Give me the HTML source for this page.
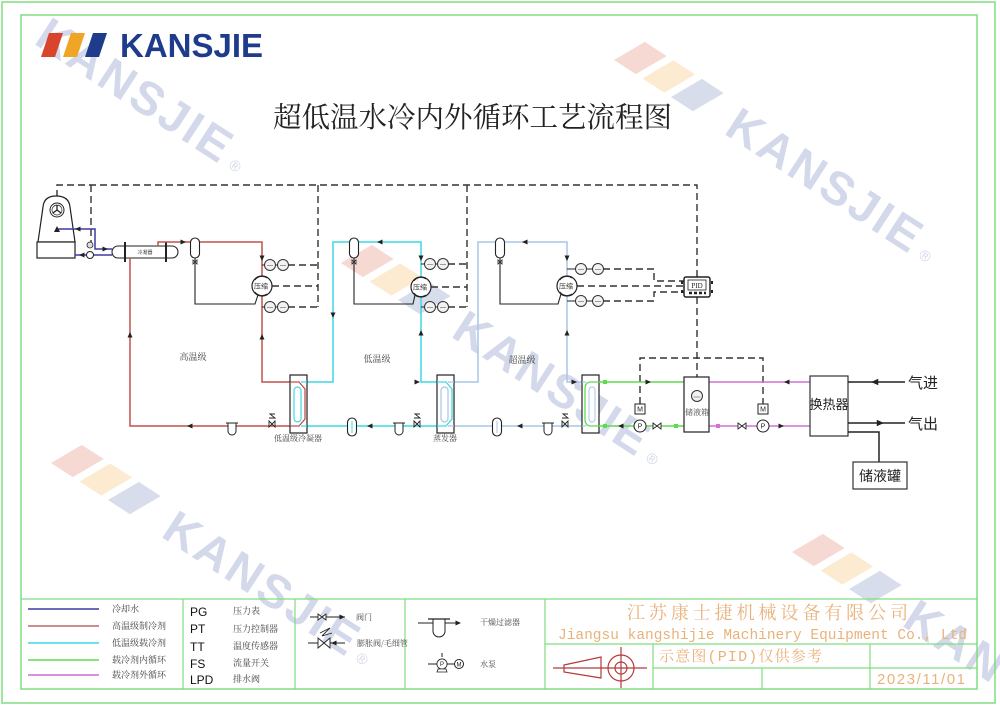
<!DOCTYPE html>
<html><head><meta charset="utf-8"><style>
html,body{margin:0;padding:0;background:#fff;width:1000px;height:706px;overflow:hidden;}
svg{display:block;}
</style></head><body>
<svg width="1000" height="706" viewBox="0 0 1000 706" xmlns="http://www.w3.org/2000/svg" font-family="'Liberation Sans','Noto Sans CJK SC',sans-serif">
<defs>
 <path id="ar" d="M-2.5,-2.5 L3,0 L-2.5,2.5Z"/>
 <g id="stripes">
  <polygon points="0,0 26,0 42,-32 16,-32" fill="#f6d9d2"/>
  <polygon points="34,0 60,0 76,-32 50,-32" fill="#fcebd0"/>
  <polygon points="68,0 94,0 110,-32 84,-32" fill="#d8ddec"/>
 </g>
 <g id="wmtext">
  <text x="131" y="2" font-size="47" font-weight="bold" letter-spacing="3" fill="#d3d9ea">KANSJIE</text>
  <text x="362" y="0" font-size="15" fill="#d3d9ea">®</text>
 </g>
 <g id="wm"><use href="#stripes"/><use href="#wmtext"/></g>
 <g id="gauge"><circle r="5.5" fill="#f2f2f2" stroke="#333" stroke-width="1"/><line x1="-3" y1="0.5" x2="3" y2="0.5" stroke="#888" stroke-width="0.8"/></g>
 <g id="comp"><circle r="10" fill="#fff" stroke="#222" stroke-width="1.2"/><path d="M-7,-6 A9,9 0 0 1 5,-8 M-7,6 A9,9 0 0 0 5,8" fill="none" stroke="#222" stroke-width="0.8"/><text x="-1" y="2.5" font-size="7" text-anchor="middle" fill="#333" font-family="'Noto Sans CJK SC',sans-serif">压缩</text></g>
 <g id="recv"><rect x="-4.5" y="-10" width="9" height="20" rx="4.5" fill="#fff" stroke="#222" stroke-width="1.1"/><path d="M-2,12 L2,16 L2,12 L-2,16Z" fill="#fff" stroke="#222" stroke-width="0.8"/></g>
 <g id="bow"><path d="M-4,-3 L4,3 L4,-3 L-4,3Z" fill="#fff" stroke="#222" stroke-width="0.9"/></g>
 <g id="filt"><path d="M-4,-5 L-4,3 A4,4 0 0 0 4,3 L4,-5" fill="#fff" stroke="#222" stroke-width="1"/><line x1="-6" y1="-5" x2="6" y2="-5" stroke="#222" stroke-width="1"/></g>
 <g id="xv"><path d="M-3,-2 L3,4 L3,-2 L-3,4Z" fill="#fff" stroke="#222" stroke-width="0.9"/><path d="M-3,-5 L3,-5 L-2,-9 L3,-9" stroke="#222" stroke-width="0.9" fill="none"/></g>
 <g id="pump"><circle r="6" fill="#fff" stroke="#222" stroke-width="1"/><text x="0" y="2.5" font-size="7" text-anchor="middle" fill="#222">P</text></g>
 <g id="mot"><rect x="-5" y="-5" width="10" height="10" fill="#fff" stroke="#222" stroke-width="1"/><text x="0" y="2.5" font-size="7" text-anchor="middle" fill="#222">M</text></g>
 <g id="cap"><rect x="-4.5" y="-9" width="9" height="18" rx="4.5" fill="#fff" stroke="#222" stroke-width="1.1"/></g>
</defs>

<!-- watermarks -->
<use href="#wmtext" transform="translate(-76,-30) rotate(33)"/>
<use href="#wm" transform="translate(614,60) rotate(33)"/>
<use href="#wm" transform="translate(341,263) rotate(33)"/>
<use href="#wm" transform="translate(51,463) rotate(33)"/>
<g transform="translate(792,552) rotate(33)">
 <use href="#stripes"/>
 <text x="131" y="2" font-size="47" font-weight="bold" letter-spacing="3" fill="#d3d9ea">KAN</text>
</g>

<!-- borders -->
<rect x="2" y="2" width="993" height="701" fill="none" stroke="#80dd80" stroke-width="1.5"/>
<rect x="21" y="15" width="956" height="674" fill="none" stroke="#80dd80" stroke-width="1.5"/>

<!-- logo -->
<polygon points="41,57 55,57 63,33 49,33" fill="#d8442c"/>
<polygon points="63,57 77,57 85,33 71,33" fill="#f0a526"/>
<polygon points="85,57 99,57 107,33 93,33" fill="#1f3c8c"/>
<text x="120" y="57" font-size="33" font-weight="bold" fill="#1f3c8c">KANSJIE</text>

<!-- title -->
<text x="273" y="127" font-size="28.5" textLength="399" fill="#222" font-family="'Liberation Serif','Noto Serif CJK SC',serif">超低温水冷内外循环工艺流程图</text>

<!-- dashed control lines -->
<g fill="none" stroke="#333" stroke-width="1.4" stroke-dasharray="7,4">
 <path d="M57,197 V185 H697 V277"/>
 <path d="M91,185 V242"/>
 <path d="M318,185 V307 M288,265 H318 M272,286 H318 M288,307 H318"/>
 <path d="M467,185 V307 M448,264 H467 M431,287 H467 M448,307 H467"/>
 <path d="M603,269 H654 V281 H684 M577,286 H684 M603,301 H654 V292 H684"/>
 <path d="M697,297 V377"/>
 <path d="M640,404 V358 H763 V404"/>
</g>

<!-- cooling tower -->
<path d="M38,242 L43,207 Q44,196 56,196 Q69,196 70,207 L75,242 Z" fill="#fff" stroke="#222" stroke-width="1.2"/>
<rect x="37" y="242" width="38" height="16" fill="#fff" stroke="#222" stroke-width="1.2"/>
<circle cx="57" cy="210" r="7" fill="#fff" stroke="#222" stroke-width="1"/>
<circle cx="57" cy="210" r="5" fill="none" stroke="#222" stroke-width="0.7"/>
<path d="M57,210 L57,205 M57,210 L53,213 M57,210 L61,213" stroke="#222" stroke-width="1.3"/>
<!-- cooling water -->
<g fill="none" stroke="#3b3ba6" stroke-width="1.5">
 <path d="M57,229 H95 V249 H112"/>
 <path d="M75,255 H112"/>
</g>
<polygon points="54,232 57,226 60,232" fill="#222"/>
<circle cx="90" cy="255" r="3.5" fill="#fff" stroke="#222" stroke-width="1"/>
<circle cx="90" cy="245" r="3" fill="#ddd" stroke="#222" stroke-width="0.8"/>
<use href="#ar" transform="translate(78,229) rotate(180)" fill="#222"/>
<use href="#ar" transform="translate(105,249)" fill="#222"/>
<use href="#ar" transform="translate(82,255) rotate(180)" fill="#222"/>

<!-- condenser -->
<rect x="112" y="246" width="66" height="12" rx="6" fill="#fff" stroke="#222" stroke-width="1.1"/>
<line x1="125" y1="242" x2="125" y2="262" stroke="#222" stroke-width="2"/>
<line x1="166" y1="242" x2="166" y2="262" stroke="#222" stroke-width="2"/>
<text x="145" y="254" font-size="5" text-anchor="middle" fill="#444" font-family="'Noto Sans CJK SC',sans-serif">冷凝器</text>

<!-- stage 1 red -->
<g fill="none" stroke="#c0504d" stroke-width="1.5">
 <path d="M158,246 V242 H262 V382 H291"/>
 <path d="M291,426 H130 V258"/>
</g>
<path d="M195,258 V304 H255 L258,295" fill="none" stroke="#222" stroke-width="1.1"/>
<path d="M262,265 H288 M262,307 H288" stroke="#222" stroke-width="1"/>
<use href="#recv" x="195" y="248"/>
<use href="#comp" x="262" y="286"/>
<use href="#gauge" x="270" y="265"/><use href="#gauge" x="283" y="265"/>
<use href="#gauge" x="270" y="307"/><use href="#gauge" x="283" y="307"/>
<use href="#filt" x="232" y="428"/>
<use href="#xv" x="272" y="423"/>
<use href="#ar" transform="translate(183,242)" fill="#222"/>
<use href="#ar" transform="translate(262,258) rotate(90)" fill="#222"/>
<use href="#ar" transform="translate(262,337) rotate(-90)" fill="#222"/>
<use href="#ar" transform="translate(190,426) rotate(180)" fill="#222"/>
<use href="#ar" transform="translate(130,335) rotate(-90)" fill="#222"/>
<text x="193" y="360" font-size="9" text-anchor="middle" fill="#444" font-family="'Noto Serif CJK SC',serif">高温级</text>

<!-- stage 2 cyan -->
<g fill="none" stroke="#3fd9e3" stroke-width="1.5">
 <path d="M307,382 H333 V242 H421 V382 H437"/>
 <path d="M307,426 H437"/>
</g>
<path d="M354,258 V304 H413 L415,295" fill="none" stroke="#222" stroke-width="1.1"/>
<path d="M421,264 H448 M421,307 H448" stroke="#222" stroke-width="1"/>
<use href="#recv" x="354" y="248"/>
<use href="#comp" x="421" y="287"/>
<use href="#gauge" x="430" y="264"/><use href="#gauge" x="443" y="264"/>
<use href="#gauge" x="430" y="307"/><use href="#gauge" x="443" y="307"/>
<use href="#cap" x="352" y="427"/>
<line x1="352" y1="421" x2="352" y2="433" stroke="#3fd9e3" stroke-width="1"/>
<use href="#filt" x="399" y="428"/>
<use href="#xv" x="417" y="423"/>
<use href="#ar" transform="translate(380,242) rotate(180)" fill="#222"/>
<use href="#ar" transform="translate(333,315) rotate(90)" fill="#222"/>
<use href="#ar" transform="translate(421,333) rotate(-90)" fill="#222"/>
<use href="#ar" transform="translate(421,258) rotate(90)" fill="#222"/>
<use href="#ar" transform="translate(370,426) rotate(180)" fill="#222"/>
<use href="#ar" transform="translate(417,382)" fill="#222"/>
<text x="377" y="362" font-size="9" text-anchor="middle" fill="#444" font-family="'Noto Serif CJK SC',serif">低温级</text>

<!-- stage 3 light blue -->
<g fill="none" stroke="#a9c5e6" stroke-width="1.5">
 <path d="M454,382 H478 V242 H567 V382 H582"/>
 <path d="M454,426 H582"/>
</g>
<path d="M500,258 V304 H558 L561,294" fill="none" stroke="#222" stroke-width="1.1"/>
<path d="M567,269 H603 M567,301 H603" stroke="#222" stroke-width="1"/>
<use href="#recv" x="500" y="248"/>
<use href="#comp" x="567" y="286"/>
<use href="#gauge" x="581" y="269"/><use href="#gauge" x="598" y="269"/>
<use href="#gauge" x="581" y="301"/><use href="#gauge" x="598" y="301"/>
<use href="#cap" x="497" y="427"/>
<line x1="497" y1="421" x2="497" y2="433" stroke="#a9c5e6" stroke-width="1"/>
<use href="#filt" x="548" y="428"/>
<use href="#xv" x="565" y="423"/>
<use href="#ar" transform="translate(525,242) rotate(180)" fill="#222"/>
<use href="#ar" transform="translate(567,258) rotate(90)" fill="#222"/>
<use href="#ar" transform="translate(567,333) rotate(-90)" fill="#222"/>
<use href="#ar" transform="translate(520,426) rotate(180)" fill="#222"/>
<use href="#ar" transform="translate(574,382)" fill="#222"/>
<text x="522" y="363" font-size="9" text-anchor="middle" fill="#444" font-family="'Noto Serif CJK SC',serif">超温级</text>

<!-- heat exchangers -->
<rect x="290" y="375" width="17" height="58" fill="#fff" stroke="#222" stroke-width="1.2"/>
<rect x="294" y="387" width="7" height="35" rx="3.5" fill="none" stroke="#3fd9e3" stroke-width="1.2"/>
<path d="M290,382 H299 L305,389 V419 L299,426 H290" fill="none" stroke="#c0504d" stroke-width="1.3"/>
<path d="M301,382 H307 M301,426 H307" stroke="#3fd9e3" stroke-width="1.3"/>
<text x="298" y="441" font-size="8" text-anchor="middle" fill="#444" font-family="'Noto Serif CJK SC',serif">低温级冷凝器</text>

<rect x="437" y="375" width="17" height="58" fill="#fff" stroke="#222" stroke-width="1.2"/>
<rect x="441" y="387" width="7" height="35" rx="3.5" fill="none" stroke="#a9c5e6" stroke-width="1.2"/>
<path d="M437,382 H446 L452,389 V419 L446,426 H437" fill="none" stroke="#3fd9e3" stroke-width="1.3"/>
<path d="M448,382 H454 M448,426 H454" stroke="#a9c5e6" stroke-width="1.3"/>
<text x="445" y="441" font-size="8" text-anchor="middle" fill="#444" font-family="'Noto Serif CJK SC',serif">蒸发器</text>

<rect x="582" y="375" width="17" height="58" fill="#fff" stroke="#222" stroke-width="1.2"/>
<rect x="589" y="387" width="6" height="35" rx="3" fill="none" stroke="#a9c5e6" stroke-width="1"/>
<path d="M599,382 H591 Q585,382 585,389 V419 Q585,426 591,426 H599" fill="none" stroke="#5edc4f" stroke-width="1.3"/>
<path d="M582,382 H586 M582,426 H586" stroke="#a9c5e6" stroke-width="1.3"/>

<!-- green loop -->
<g fill="none" stroke="#5edc4f" stroke-width="1.5">
 <path d="M599,382 H684"/>
 <path d="M599,426 H684"/>
</g>
<use href="#ar" transform="translate(648,382)" fill="#222"/>
<use href="#ar" transform="translate(621,426) rotate(180)" fill="#222"/>
<use href="#mot" x="640" y="409"/>
<use href="#pump" x="640" y="426"/>
<use href="#bow" x="657" y="426"/>
<rect x="603" y="380" width="4" height="4" fill="#5edc4f"/>
<rect x="603" y="424" width="4" height="4" fill="#5edc4f"/>
<rect x="674" y="424" width="4" height="4" fill="#5edc4f"/>

<!-- magenta loop -->
<g fill="none" stroke="#d271d8" stroke-width="1.5">
 <path d="M709,382 H810"/>
 <path d="M709,426 H810"/>
</g>
<use href="#ar" transform="translate(787,382) rotate(180)" fill="#222"/>
<use href="#ar" transform="translate(781,426)" fill="#222"/>
<use href="#bow" x="742" y="426"/>
<use href="#mot" x="763" y="409"/>
<use href="#pump" x="763" y="426"/>
<rect x="716" y="424" width="4" height="4" fill="#d271d8"/>

<!-- tank -->
<rect x="684" y="377" width="25" height="55" fill="#fff" stroke="#222" stroke-width="1.2"/>
<circle cx="697" cy="396" r="5.5" fill="#f2f2f2" stroke="#333" stroke-width="1"/>
<line x1="693.5" y1="397" x2="700.5" y2="397" stroke="#888" stroke-width="0.8"/>
<text x="697" y="415" font-size="8" text-anchor="middle" fill="#444" font-family="'Noto Serif CJK SC',serif">储液箱</text>

<!-- PID -->
<rect x="684" y="277" width="26" height="20" rx="2" fill="#fff" stroke="#222" stroke-width="1.5"/>
<rect x="688" y="280" width="18" height="10" fill="#fff" stroke="#222" stroke-width="0.8"/>
<text x="697" y="288" font-size="7" text-anchor="middle" fill="#222" font-family="'Liberation Serif',serif">PID</text>
<path d="M689,293 h3 M694,293 h3 M699,293 h3 M704,293 h2" stroke="#222" stroke-width="2.5"/>
<path d="M682,281 v3 M682,290 v3 M712,281 v3 M712,290 v3" stroke="#222" stroke-width="2"/>

<!-- heat exchanger & gas -->
<rect x="810" y="376" width="38" height="60" fill="#fff" stroke="#333" stroke-width="1.2"/>
<text x="829" y="409" font-size="13" text-anchor="middle" fill="#222">换热器</text>
<g fill="none" stroke="#222" stroke-width="1.5">
 <path d="M848,382 H905"/>
 <path d="M848,423 H905"/>
 <path d="M848,432 H879 V462"/>
</g>
<use href="#ar" transform="translate(875,382) rotate(180) scale(1.3)" fill="#222"/>
<use href="#ar" transform="translate(880,423) scale(1.3)" fill="#222"/>
<text x="908" y="388" font-size="15" fill="#222">气进</text>
<text x="908" y="429" font-size="15" fill="#222">气出</text>
<rect x="853" y="462" width="54" height="27" fill="#fff" stroke="#333" stroke-width="1.2"/>
<text x="880" y="481" font-size="14" text-anchor="middle" fill="#222">储液罐</text>

<!-- legend grid -->
<g stroke="#80dd80" stroke-width="1.2" fill="none">
 <path d="M21,599 H977"/>
 <path d="M183,599 V689 M295,599 V689 M405,599 V689 M545,599 V689"/>
 <path d="M545,644 H977 M653,668 H977 M653,644 V689 M762,668 V689 M870,644 V689"/>
</g>

<!-- legend col1 -->
<line x1="28" y1="609" x2="99" y2="609" stroke="#3b3ba6" stroke-width="1.5"/>
<line x1="28" y1="626" x2="99" y2="626" stroke="#b86a6a" stroke-width="1.5"/>
<line x1="28" y1="643" x2="99" y2="643" stroke="#3fd9e3" stroke-width="1.5"/>
<line x1="28" y1="660" x2="99" y2="660" stroke="#5edc4f" stroke-width="1.5"/>
<line x1="28" y1="675" x2="99" y2="675" stroke="#c96fd0" stroke-width="1.5"/>
<g font-size="9" fill="#444" font-family="'Noto Serif CJK SC',serif">
 <text x="112" y="612">冷却水</text>
 <text x="112" y="629">高温级制冷剂</text>
 <text x="112" y="646">低温级载冷剂</text>
 <text x="112" y="663">载冷剂内循环</text>
 <text x="112" y="678">载冷剂外循环</text>
</g>
<!-- legend col2 -->
<g font-size="12" fill="#111">
 <text x="190" y="616">PG</text>
 <text x="190" y="633">PT</text>
 <text x="190" y="651">TT</text>
 <text x="190" y="668">FS</text>
 <text x="190" y="684">LPD</text>
</g>
<g font-size="9" fill="#444" font-family="'Noto Serif CJK SC',serif">
 <text x="233" y="614">压力表</text>
 <text x="233" y="632">压力控制器</text>
 <text x="233" y="649">温度传感器</text>
 <text x="233" y="666">流量开关</text>
 <text x="233" y="682">排水阀</text>
</g>
<!-- legend col3 -->
<line x1="310" y1="617" x2="345" y2="617" stroke="#222" stroke-width="1"/>
<use href="#bow" x="322" y="617"/>
<use href="#ar" transform="translate(342,617)" fill="#222"/>
<line x1="308" y1="643" x2="345" y2="643" stroke="#222" stroke-width="1"/>
<path d="M318,638 L330,648 L330,638 L318,648Z" fill="#fff" stroke="#222" stroke-width="0.9"/>
<path d="M320,633 L330,628 L322,636 L332,633" fill="none" stroke="#222" stroke-width="0.9"/>
<use href="#ar" transform="translate(334,643) rotate(180)" fill="#222"/>
<g font-size="8" fill="#444" font-family="'Noto Serif CJK SC',serif">
 <text x="356" y="620">阀门</text>
 <text x="357" y="646">膨胀阀/毛细管</text>
 <text x="480" y="625">干燥过滤器</text>
 <text x="480" y="667">水泵</text>
</g>
<!-- legend col4 -->
<line x1="418" y1="623" x2="433" y2="623" stroke="#222" stroke-width="1"/>
<line x1="445" y1="623" x2="460" y2="623" stroke="#222" stroke-width="1"/>
<path d="M433,619 V631 A6,6 0 0 0 445,631 V619" fill="#fff" stroke="#222" stroke-width="1"/>
<line x1="428" y1="619" x2="450" y2="619" stroke="#222" stroke-width="1.2"/>
<use href="#ar" transform="translate(458,623)" fill="#222"/>
<line x1="428" y1="664" x2="454" y2="664" stroke="#222" stroke-width="1"/>
<line x1="442" y1="653" x2="442" y2="657" stroke="#222" stroke-width="1"/>
<use href="#pump" transform="translate(442,664) scale(0.85)"/>
<path d="M438,669 h8 l1,3 h-10z" fill="#fff" stroke="#222" stroke-width="0.8"/>
<circle cx="459" cy="664" r="4.5" fill="#fff" stroke="#222" stroke-width="1"/>
<text x="459" y="666.5" font-size="6" text-anchor="middle" fill="#222">M</text>

<!-- title block -->
<text x="627" y="619" font-size="18" textLength="281" fill="#e9b27c" font-family="'Noto Serif CJK SC',serif">江苏康士捷机械设备有限公司</text>
<text x="558" y="639" font-size="14.5" textLength="409" fill="#e9b27c" font-family="'Liberation Mono',monospace">Jiangsu kangshijie Machinery Equipment Co., Ltd</text>
<text x="659" y="661" font-size="15" textLength="163" fill="#e9b27c" font-family="'Liberation Mono','Noto Serif CJK SC',serif">示意图(PID)仅供参考</text>
<text x="877" y="684" font-size="15" textLength="88" fill="#e9b27c">2023/11/01</text>
<g stroke="#b33a3a" stroke-width="1.2" fill="none">
 <path d="M553,668 H647"/>
 <path d="M564,665 L601,657 V678 L564,672 Z"/>
 <circle cx="621" cy="668" r="13"/>
 <circle cx="621" cy="668" r="6"/>
 <path d="M621,647 V688"/>
</g>
</svg>
</body></html>
